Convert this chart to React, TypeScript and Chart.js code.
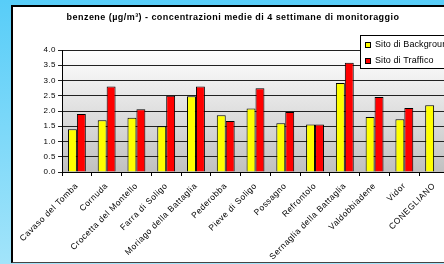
import React, { useEffect, useRef } from "react";
import { Chart, registerables } from "chart.js";

Chart.register(...registerables);

const categories = [
  "Cavaso del Tomba",
  "Cornuda",
  "Crocetta del Montello",
  "Farra di Soligo",
  "Moriago della Battaglia",
  "Pederobba",
  "Pieve di Soligo",
  "Possagno",
  "Refrontolo",
  "Sernaglia della Battaglia",
  "Valdobbiadene",
  "Vidor",
  "CONEGLIANO",
];
const background = [1.4, 1.7, 1.78, 1.5, 2.48, 1.86, 2.08, 1.6, 1.56, 2.92, 1.8, 1.73, 2.19];
const traffic = [1.9, 2.8, 2.06, 2.5, 2.8, 1.67, 2.75, 1.97, 1.56, 3.58, 2.46, 2.1, null];
const seriesNames = ["Sito di Background", "Sito di Traffico"];
const titleText = "benzene (µg/m³) - concentrazioni medie di 4 settimane di monitoraggio";
const yMin = 0;
const yMax = 4;
const yStep = 0.5;

const FONT = "'Liberation Sans', Arial, sans-serif";

export default function App() {
  const ref = useRef<HTMLCanvasElement>(null);

  useEffect(() => {
    if (!ref.current) return;
    document.body.style.margin = "0";
    const plotBg = {
      id: "plotBg",
      beforeDraw(chart: any) {
        const { ctx, chartArea } = chart;
        const g = ctx.createLinearGradient(0, chartArea.top, 0, chartArea.bottom);
        g.addColorStop(0, "#ffffff");
        g.addColorStop(1, "#c0c0c0");
        ctx.save();
        ctx.fillStyle = g;
        ctx.fillRect(chartArea.left, chartArea.top, chartArea.right - chartArea.left, chartArea.bottom - chartArea.top);
        ctx.restore();
        (ctx as any).letterSpacing = "0.5px";
      },
    };
    const overlay = {
      id: "overlay",
      afterDraw(chart: any) {
        const ctx = chart.ctx;
        ctx.save();
        (ctx as any).letterSpacing = "0.45px";
        ctx.fillStyle = "#000";
        ctx.font = `bold 9px ${FONT}`;
        ctx.textAlign = "center";
        ctx.textBaseline = "middle";
        ctx.fillText(titleText, 233, 18);
        // legend
        const lx = 360, ly = 35, lw = 120, lh = 33;
        ctx.fillStyle = "#fff";
        ctx.fillRect(lx, ly, lw, lh);
        ctx.strokeStyle = "#000";
        ctx.lineWidth = 1;
        ctx.strokeRect(lx + 0.5, ly + 0.5, lw, lh);
        const colors = ["#ffff00", "#ff0000"];
        (ctx as any).letterSpacing = "0.1px";
        ctx.font = `9px ${FONT}`;
        ctx.textAlign = "left";
        seriesNames.forEach((n, i) => {
          const cy = 45 + i * 16;
          ctx.fillStyle = colors[i];
          ctx.fillRect(365, cy - 3, 6, 6);
          ctx.strokeStyle = "#000";
          ctx.strokeRect(365.5, cy - 2.5, 5, 5);
          ctx.fillStyle = "#000";
          ctx.fillText(n, 375, cy);
        });
        ctx.restore();
        (ctx as any).letterSpacing = "0px";
      },
    };
    const chart = new Chart(ref.current, {
      type: "bar",
      data: {
        labels: categories,
        datasets: [
          {
            label: seriesNames[0],
            data: background,
            backgroundColor: "#ffff00",
            borderColor: "#000",
            borderWidth: 1,
            categoryPercentage: 0.6,
            barPercentage: 1,
          },
          {
            label: seriesNames[1],
            data: traffic as any,
            backgroundColor: "#ff0000",
            borderColor: "#000",
            borderWidth: 1,
            categoryPercentage: 0.6,
            barPercentage: 1,
          },
        ],
      },
      options: {
        animation: false,
        responsive: false,
        maintainAspectRatio: false,
        layout: { padding: { left: 0, top: 50, right: 21, bottom: 0 } },
        plugins: { legend: { display: false }, title: { display: false }, tooltip: { enabled: false } },
        scales: {
          x: {
            offset: true,
            grid: { offset: true, drawOnChartArea: false, color: "#000", tickLength: 4 },
            border: { color: "#000", width: 1 },
            ticks: {
              color: "#000",
              font: { family: FONT, size: 8.5 },
              minRotation: 45,
              maxRotation: 45,
              autoSkip: false,
              padding: 5,
            },
            afterFit(scale: any) {
              scale.height = 92;
            },
          },
          y: {
            min: yMin,
            max: yMax,
            ticks: {
              stepSize: yStep,
              color: "#000",
              font: { family: FONT, size: 8 },
              padding: 2,
              callback: (v: any) => Number(v).toFixed(1),
            },
            grid: { color: "#222", tickLength: 4 },
            border: { color: "#000", width: 1 },
            afterFit(scale: any) {
              scale.width = 62;
            },
          },
        },
      },
      plugins: [plotBg, overlay],
    });
    return () => chart.destroy();
  }, []);

  return (
    <div
      style={{
        position: "absolute",
        left: 0,
        top: 0,
        width: 444,
        height: 264,
        overflow: "hidden",
        background: "linear-gradient(#58cdf8, #a2e4fa)",
      }}
    >
      <div
        style={{
          position: "absolute",
          left: 11,
          top: 5,
          width: 480,
          height: 255,
          background: "#fff",
          borderLeft: "2px solid #000",
          borderTop: "2px solid #000",
          borderBottom: "1px solid #444",
        }}
      />
      <canvas ref={ref} width={470} height={264} style={{ position: "absolute", left: 0, top: 0, width: 470, height: 264 }} />
    </div>
  );
}
